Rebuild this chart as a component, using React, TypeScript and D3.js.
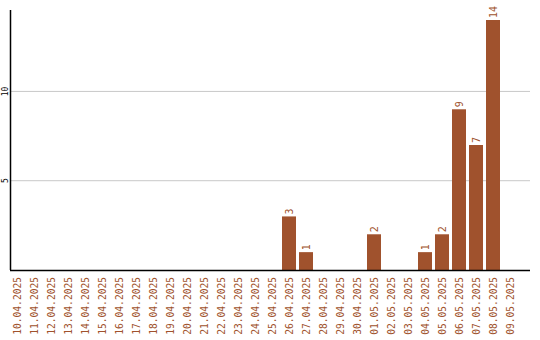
import React from "react";
import * as d3 from "d3";

const dates = [
  "10.04.2025", "11.04.2025", "12.04.2025", "13.04.2025", "14.04.2025",
  "15.04.2025", "16.04.2025", "17.04.2025", "18.04.2025", "19.04.2025",
  "20.04.2025", "21.04.2025", "22.04.2025", "23.04.2025", "24.04.2025",
  "25.04.2025", "26.04.2025", "27.04.2025", "28.04.2025", "29.04.2025",
  "30.04.2025", "01.05.2025", "02.05.2025", "03.05.2025", "04.05.2025",
  "05.05.2025", "06.05.2025", "07.05.2025", "08.05.2025", "09.05.2025",
];
const counts = [
  0, 0, 0, 0, 0, 0, 0, 0, 0, 0,
  0, 0, 0, 0, 0, 0, 3, 1, 0, 0,
  0, 2, 0, 0, 1, 2, 9, 7, 14, 0,
];
const yTicks = [5, 10];

const W = 540;
const H = 340;
const left = 10;
const right = 530;
const baseY = 270;
const topY = 10;
const barColor = "#a0522d";
const font = "'DejaVu Sans Mono', monospace";

export default function App() {
  const x = d3
    .scaleBand<string>()
    .domain(dates)
    .range([left, left + dates.length * 17 - 3])
    .paddingInner(3 / 17)
    .paddingOuter(0);
  const y = d3.scaleLinear().domain([0, 14]).range([baseY, 20]);
  const bw = x.bandwidth();

  return (
    <svg
      width={W}
      height={H}
      style={{ position: "absolute", left: 0, top: 0, background: "#fff" }}
    >
      {yTicks.map((t) => (
        <g key={t}>
          <line x1={left} x2={right} y1={y(t)} y2={y(t)} stroke="#c8c8c8" strokeWidth={1} />
          <text
            transform={`translate(8,${y(t)}) rotate(-90)`}
            textAnchor="middle"
            fontFamily={font}
            fontSize={8}
            fill="#000"
          >
            {t}
          </text>
        </g>
      ))}
      {dates.map((d, i) => {
        const v = counts[i];
        const cx = (x(d) ?? 0) + bw / 2;
        return (
          <g key={d}>
            {v > 0 && (
              <>
                <rect x={x(d)} y={y(v)} width={bw} height={baseY - y(v)} fill={barColor} />
                <text
                  transform={`translate(${cx + 3.5},${y(v) - 2}) rotate(-90)`}
                  textAnchor="start"
                  fontFamily={font}
                  fontSize={10}
                  fill={barColor}
                >
                  {v}
                </text>
              </>
            )}
            <text
              transform={`translate(${cx + 3.5},${baseY + 7}) rotate(-90)`}
              textAnchor="end"
              fontFamily={font}
              fontSize={9.6}
              fill={barColor}
            >
              {d}
            </text>
          </g>
        );
      })}
      <line x1={left + 0.5} x2={left + 0.5} y1={topY} y2={baseY} stroke="#000" strokeWidth={1.5} />
      <line x1={left} x2={right} y1={baseY + 0.5} y2={baseY + 0.5} stroke="#000" strokeWidth={1.5} />
    </svg>
  );
}
